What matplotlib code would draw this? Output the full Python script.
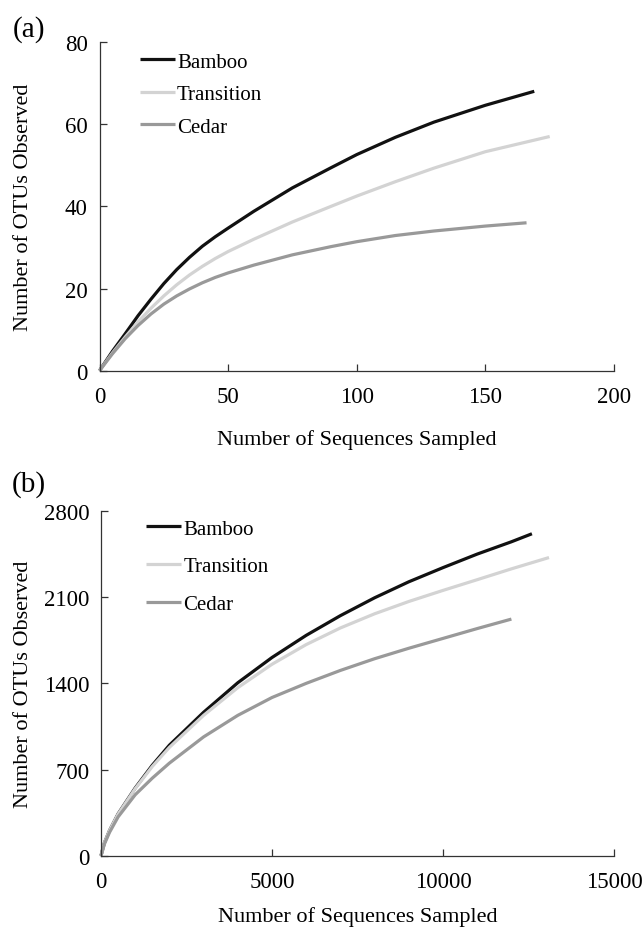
import matplotlib
matplotlib.use("Agg")
import matplotlib.pyplot as plt

plt.rcParams['font.family'] = ['Liberation Serif', 'DejaVu Serif']

# Panel (a)
a_bamboo_x = [0, 5, 10, 15, 20, 25, 30, 35, 40, 45, 50, 60, 75, 90, 100, 115, 130, 150, 169]
a_bamboo_y = [0, 4.7, 9.0, 13.4, 17.4, 21.2, 24.6, 27.6, 30.3, 32.6, 34.7, 38.8, 44.5, 49.4, 52.6, 56.8, 60.5, 64.6, 68.0]
a_trans_x = [0, 5, 10, 15, 20, 25, 30, 35, 40, 45, 50, 60, 75, 90, 100, 115, 130, 150, 175]
a_trans_y = [0, 4.3, 8.2, 11.9, 15.2, 18.2, 20.9, 23.3, 25.4, 27.3, 29.0, 32.0, 36.2, 40.0, 42.5, 46.0, 49.3, 53.3, 57.0]
a_cedar_x = [0, 5, 10, 15, 20, 25, 30, 35, 40, 45, 50, 60, 75, 90, 100, 115, 130, 150, 166]
a_cedar_y = [0, 4.1, 7.8, 11.0, 13.8, 16.2, 18.2, 19.9, 21.4, 22.7, 23.8, 25.7, 28.2, 30.2, 31.4, 32.9, 34.0, 35.2, 36.0]

# Panel (b)
b_bamboo_x = [0, 100, 250, 500, 1000, 1500, 2000, 3000, 4000, 5000, 6000, 7000, 8000, 9000, 10000, 11000, 12000, 12600]
b_bamboo_y = [0, 105, 205, 340, 550, 735, 898, 1165, 1405, 1610, 1790, 1950, 2095, 2225, 2340, 2450, 2550, 2615]
b_trans_x = [0, 100, 250, 500, 1000, 1500, 2000, 3000, 4000, 5000, 6000, 7000, 8000, 9000, 10000, 11000, 12000, 13100]
b_trans_y = [0, 105, 205, 338, 545, 725, 880, 1140, 1365, 1555, 1715, 1850, 1965, 2065, 2155, 2242, 2330, 2422]
b_cedar_x = [0, 100, 250, 500, 1000, 1500, 2000, 3000, 4000, 5000, 6000, 7000, 8000, 9000, 10000, 11000, 12000]
b_cedar_y = [0, 95, 190, 315, 495, 630, 752, 965, 1140, 1285, 1400, 1505, 1600, 1685, 1765, 1845, 1922]

labels = ["Bamboo", "Transition", "Cedar"]
colors = ["#111111", "#d3d3d3", "#999999"]

W, H = 644, 929
fig = plt.figure(figsize=(W / 100, H / 100), dpi=100)

def axes_px(left, right, top, bottom):
    return fig.add_axes([left / W, 1 - bottom / H, (right - left) / W, (bottom - top) / H])

ax1 = axes_px(99.5, 614, 43, 371.7)
ax2 = axes_px(101, 614, 512, 856.7)

def style(ax, xlim, xticks, ylim, yticks, ylab_x, xlab_y):
    ax.set_xlim(*xlim)
    ax.set_ylim(*ylim)
    ax.set_xticks(xticks)
    ax.set_yticks(yticks)
    for s in ['top', 'right']:
        ax.spines[s].set_visible(False)
    for s in ['left', 'bottom']:
        ax.spines[s].set_color('#333333')
        ax.spines[s].set_linewidth(0.9)
    ax.tick_params(axis='x', direction='in', length=5, width=0.9, labelsize=16.5, pad=11, colors='#333333', labelcolor='black')
    ax.tick_params(axis='y', direction='in', length=5, width=0.9, labelsize=16.5, pad=8.5, colors='#333333', labelcolor='black')
    ax.set_xlabel("Number of Sequences Sampled", fontsize=16, va='center', ha='center')
    ax.set_ylabel("Number of OTUs Observed", fontsize=16, va='center', ha='center')
    ax.xaxis.set_label_coords(0.5, xlab_y)
    ax.yaxis.set_label_coords(ylab_x, 0.5)

series_a = [(a_bamboo_x, a_bamboo_y), (a_trans_x, a_trans_y), (a_cedar_x, a_cedar_y)]
series_b = [(b_bamboo_x, b_bamboo_y), (b_trans_x, b_trans_y), (b_cedar_x, b_cedar_y)]

for ax, series in [(ax1, series_a), (ax2, series_b)]:
    for (x, y), c, l in zip(series, colors, labels):
        ax.plot(x, y, color=c, lw=2.3, label=l, solid_capstyle='butt', solid_joinstyle='round', clip_on=False)

style(ax1, (0, 200), [0, 50, 100, 150, 200], (0, 80), [0, 20, 40, 60, 80],
      (24 - 99.5) / 514.5, (371.7 - 440) / 328.7)
style(ax2, (0, 15000), [0, 5000, 10000, 15000], (0, 2800), [0, 700, 1400, 2100, 2800],
      (24 - 101) / 513, (856.7 - 917) / 344.7)

ax1.legend(loc='upper left', bbox_to_anchor=((139.5 - 99.5) / 514.5, (371.7 - 53) / 328.7),
           frameon=False, fontsize=15, borderpad=0, borderaxespad=0,
           handlelength=1.7, handletextpad=0.1, labelspacing=0.62)
ax2.legend(loc='upper left', bbox_to_anchor=((146 - 101) / 513, (856.7 - 520) / 344.7),
           frameon=False, fontsize=15, borderpad=0, borderaxespad=0,
           handlelength=1.7, handletextpad=0.1, labelspacing=0.87)

fig.text(13 / W, 1 - 30 / H, "(a)", fontsize=21, ha='left', va='center')
fig.text(12 / W, 1 - 485 / H, "(b)", fontsize=21, ha='left', va='center')

fig.savefig("out.png", dpi=100)
